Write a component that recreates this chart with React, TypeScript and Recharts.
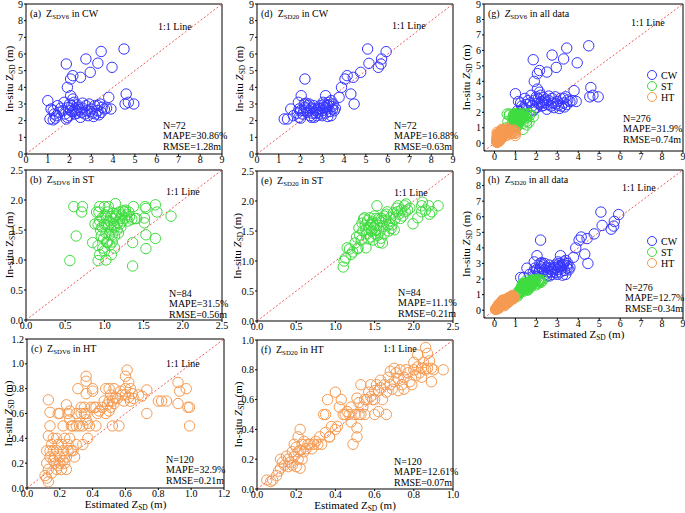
import React from "react";
import { ReferenceLine, Scatter, ScatterChart, XAxis, YAxis } from "recharts";

type Pair = [number, number];

const SERIF = "'Times New Roman', 'Liberation Serif', 'DejaVu Serif', serif";
const BLUE = "#3535ff";
const GREEN = "#3fdc3f";
const ORANGE = "#f59a50";
const RED = "#f05a5a";

// CW samples: [estimated, in-situ]
const cwVs6: Pair[] = [
  [1.0, 3.2], [1.85, 5.4], [2.75, 5.7], [3.3, 5.45], [3.45, 6.15], [4.5, 6.3], [2.95, 4.9], [3.95, 5.2],
  [2.15, 4.7], [2.05, 4.5], [2.5, 4.6], [1.9, 4.0], [2.05, 3.5], [2.15, 3.3], [3.8, 3.4], [4.6, 3.6],
  [4.55, 3.0], [4.95, 3.0], [4.7, 3.1], [3.9, 2.7],
  [1.1, 2.1], [1.15, 2.7], [1.25, 2.6], [1.3, 2.4], [1.35, 2.15], [1.45, 2.9], [1.5, 2.5], [1.6, 2.75],
  [1.75, 3.1], [1.8, 2.4], [1.85, 2.1], [1.9, 2.2], [1.95, 2.8], [2.0, 3.0], [2.05, 2.6], [2.1, 2.9],
  [2.2, 3.1], [2.25, 2.7], [2.3, 2.6], [2.35, 2.95], [2.4, 2.8], [2.5, 2.2], [2.55, 2.5], [2.6, 2.75],
  [2.7, 2.4], [2.8, 2.6], [2.85, 2.3], [2.9, 3.0], [3.0, 2.7], [3.05, 2.45], [3.15, 2.9], [3.2, 2.4],
  [3.3, 2.6], [3.35, 2.35], [3.4, 3.0], [3.5, 2.8], [3.6, 2.7], [3.3, 2.9], [2.25, 2.4], [1.7, 2.6],
  [2.0, 2.3], [2.75, 2.9], [3.1, 2.25], [2.45, 2.65], [1.4, 2.3], [2.15, 2.55], [2.95, 2.55], [3.45, 2.5],
  [1.25, 2.05], [2.6, 3.05], [3.7, 2.75], [2.35, 2.45],
];

const cwSd20: Pair[] = [
  [1.25, 2.1], [1.4, 2.1], [1.55, 2.7], [1.9, 3.1], [2.03, 3.5], [2.2, 4.5], [1.93, 2.7], [1.93, 2.2],
  [1.67, 2.3], [2.17, 3.0], [2.28, 2.7], [2.63, 2.2], [2.89, 2.7], [3.04, 3.1], [3.15, 3.5], [3.23, 2.9],
  [3.4, 3.2], [3.47, 2.7], [3.4, 2.3], [3.77, 3.4], [3.88, 4.0], [4.04, 4.5], [4.14, 4.7], [4.42, 4.6],
  [4.76, 4.9], [4.31, 3.6], [4.46, 3.0], [5.08, 6.3], [5.14, 5.44], [5.57, 5.2], [5.69, 5.4], [5.72, 5.7],
  [5.93, 6.14],
  [2.0, 2.15], [2.1, 2.4], [2.2, 2.8], [2.3, 2.5], [2.35, 2.9], [2.4, 2.6], [2.45, 2.3], [2.5, 2.75],
  [2.55, 2.45], [2.6, 2.9], [2.7, 2.6], [2.75, 2.3], [2.8, 2.5], [2.9, 2.9], [2.95, 2.4], [3.0, 2.6],
  [3.05, 2.8], [3.1, 3.0], [3.15, 2.45], [3.2, 2.7], [3.3, 2.95], [3.35, 2.55], [3.45, 2.85], [3.5, 3.0],
  [3.55, 2.6], [2.25, 3.05], [2.5, 2.2], [3.25, 2.25], [1.85, 2.45], [2.15, 2.6], [2.65, 2.7], [3.0, 2.3],
  [3.3, 3.1], [2.4, 3.0], [2.85, 2.75], [3.6, 2.75], [2.0, 2.6], [2.7, 2.45], [3.15, 2.8],
];

// ST samples
const stVs6: Pair[] = [
  [0.61, 1.89], [0.72, 1.89], [0.71, 1.8], [0.64, 1.4], [0.56, 0.99], [0.85, 1.29], [0.92, 1.24], [0.94, 1.09],
  [0.92, 0.99], [0.98, 1.2], [0.92, 1.59], [0.93, 1.8], [0.94, 1.89], [1.0, 1.89], [1.05, 1.89], [1.14, 1.94],
  [1.03, 1.59], [1.04, 1.29], [1.09, 1.09], [1.13, 1.2], [1.13, 1.4], [1.16, 1.5], [1.12, 1.69], [1.2, 1.69],
  [1.25, 1.8], [1.31, 1.8], [1.37, 1.89], [1.39, 1.69], [1.41, 1.69], [1.36, 1.29], [1.36, 0.9], [1.52, 1.89],
  [1.53, 1.86], [1.51, 1.62], [1.51, 1.7], [1.53, 1.42], [1.53, 1.19], [1.65, 1.92], [1.67, 1.8], [1.65, 1.36],
  [1.85, 1.73],
  [0.9, 1.8], [0.95, 1.5], [0.96, 1.4], [0.97, 1.7], [0.99, 1.35], [1.0, 1.6], [1.01, 1.75], [1.02, 1.45],
  [1.03, 1.3], [1.04, 1.8], [1.05, 1.55], [1.06, 1.65], [1.07, 1.25], [1.08, 1.72], [1.09, 1.5], [1.1, 1.42],
  [1.11, 1.78], [1.12, 1.6], [1.13, 1.55], [1.15, 1.75], [1.17, 1.62], [1.18, 1.45], [1.19, 1.8], [1.21, 1.55],
  [1.22, 1.75], [1.23, 1.65], [1.24, 1.82], [1.26, 1.7], [1.28, 1.75], [1.3, 1.65], [1.32, 1.72], [1.0, 1.15],
  [0.97, 1.55], [1.06, 1.42], [1.14, 1.72], [1.2, 1.6], [1.27, 1.83], [1.35, 1.68], [1.03, 1.7], [0.94, 1.65],
  [1.1, 1.3], [1.02, 1.0], [0.88, 1.6],
];

const stSd20: Pair[] = [
  [1.1, 0.9], [1.11, 1.0], [1.15, 1.22], [1.2, 1.11], [1.25, 1.3], [1.29, 1.22], [1.31, 1.43], [1.34, 1.63],
  [1.37, 1.72], [1.39, 1.52], [1.42, 1.37], [1.39, 1.22], [1.48, 1.62], [1.52, 1.71], [1.53, 1.92], [1.54, 1.43],
  [1.56, 1.31], [1.66, 1.82], [1.59, 1.71], [1.69, 1.62], [1.71, 1.54], [1.75, 1.52], [1.79, 1.82], [1.8, 1.92],
  [1.83, 1.71], [1.88, 1.92], [1.9, 1.95], [1.89, 1.82], [1.99, 1.62], [2.05, 1.72], [2.1, 1.82], [2.11, 1.98],
  [2.1, 1.92], [2.19, 1.92], [2.23, 1.82], [2.31, 1.92],
  [1.13, 1.05], [1.18, 1.2], [1.22, 1.15], [1.27, 1.4], [1.3, 1.55], [1.33, 1.35], [1.35, 1.5], [1.36, 1.7],
  [1.38, 1.6], [1.4, 1.45], [1.41, 1.68], [1.43, 1.55], [1.44, 1.72], [1.45, 1.4], [1.46, 1.5], [1.47, 1.65],
  [1.49, 1.55], [1.5, 1.75], [1.51, 1.45], [1.53, 1.6], [1.55, 1.7], [1.57, 1.5], [1.58, 1.65], [1.6, 1.3],
  [1.61, 1.58], [1.62, 1.75], [1.64, 1.68], [1.65, 1.78], [1.67, 1.6], [1.7, 1.72], [1.72, 1.6], [1.74, 1.8],
  [1.76, 1.7], [1.78, 1.88], [1.81, 1.78], [1.84, 1.85], [1.86, 1.75], [1.92, 1.85], [2.15, 1.85], [2.2, 1.78],
  [1.95, 1.88], [1.62, 1.45], [1.48, 1.35], [1.58, 1.38], [1.28, 1.2], [1.45, 1.6], [1.52, 1.52], [1.68, 1.5],
];

// HT samples
const htVs6: Pair[] = [
  [0.11, 0.1], [0.12, 0.08], [0.13, 0.05], [0.13, 0.15], [0.12, 0.2], [0.14, 0.3], [0.12, 0.3], [0.13, 0.42],
  [0.14, 0.5], [0.14, 0.61], [0.13, 0.71], [0.16, 0.3], [0.17, 0.2], [0.18, 0.15], [0.17, 0.25], [0.18, 0.4],
  [0.19, 0.35], [0.19, 0.6], [0.2, 0.2], [0.2, 0.6], [0.21, 0.15], [0.22, 0.3], [0.22, 0.5], [0.23, 0.2],
  [0.23, 0.4], [0.24, 0.67], [0.24, 0.15], [0.25, 0.6], [0.25, 0.3], [0.26, 0.55], [0.26, 0.62], [0.27, 0.3],
  [0.27, 0.5], [0.29, 0.25], [0.3, 0.5], [0.31, 0.8], [0.33, 0.65], [0.33, 0.6], [0.34, 0.5], [0.34, 0.35],
  [0.36, 0.9], [0.36, 0.86], [0.36, 0.76], [0.36, 0.6], [0.37, 0.52], [0.37, 0.4], [0.39, 0.65], [0.4, 0.8],
  [0.4, 0.78], [0.42, 0.5], [0.42, 0.65], [0.43, 0.6], [0.48, 0.8], [0.48, 0.6], [0.49, 0.67], [0.5, 0.7],
  [0.5, 0.8], [0.51, 0.65], [0.52, 0.7], [0.52, 0.5], [0.53, 0.8], [0.53, 0.68], [0.54, 0.73], [0.56, 0.5],
  [0.58, 0.75], [0.59, 0.7], [0.6, 0.9], [0.61, 0.95], [0.6, 0.8], [0.62, 0.85], [0.63, 0.7], [0.64, 0.76],
  [0.62, 0.73], [0.68, 0.75], [0.73, 0.79], [0.73, 0.6], [0.8, 0.7], [0.82, 0.7], [0.85, 0.7], [0.92, 0.85],
  [0.92, 0.68], [0.93, 0.78], [0.97, 0.8], [0.98, 0.65], [0.99, 0.65], [0.99, 0.5],
  [0.14, 0.25], [0.15, 0.35], [0.16, 0.4], [0.15, 0.12], [0.18, 0.3], [0.19, 0.18], [0.2, 0.25], [0.21, 0.35],
  [0.16, 0.22], [0.24, 0.25], [0.25, 0.35], [0.26, 0.4], [0.28, 0.3], [0.28, 0.5], [0.3, 0.6], [0.32, 0.5],
  [0.35, 0.6], [0.35, 0.65], [0.38, 0.5], [0.41, 0.65], [0.44, 0.62], [0.46, 0.65], [0.47, 0.7], [0.5, 0.62],
  [0.51, 0.75], [0.55, 0.72], [0.57, 0.78], [0.6, 0.75], [0.63, 0.8], [0.65, 0.72], [0.7, 0.74], [0.36, 0.55],
  [0.22, 0.22], [0.3, 0.35],
];

const htSd20: Pair[] = [
  [0.05, 0.06], [0.07, 0.05], [0.1, 0.09], [0.12, 0.14], [0.12, 0.2], [0.16, 0.2], [0.16, 0.15], [0.18, 0.16],
  [0.19, 0.3], [0.21, 0.2], [0.21, 0.25], [0.21, 0.35], [0.22, 0.4], [0.22, 0.14], [0.23, 0.3], [0.24, 0.25],
  [0.27, 0.3], [0.31, 0.3], [0.33, 0.3], [0.34, 0.5], [0.35, 0.5], [0.36, 0.6], [0.37, 0.35], [0.4, 0.4],
  [0.4, 0.65], [0.43, 0.6], [0.42, 0.55], [0.45, 0.5], [0.47, 0.5], [0.49, 0.3], [0.51, 0.35], [0.51, 0.41],
  [0.51, 0.61], [0.52, 0.5], [0.53, 0.7], [0.53, 0.5], [0.55, 0.6], [0.55, 0.5], [0.58, 0.7], [0.59, 0.6],
  [0.6, 0.66], [0.62, 0.52], [0.63, 0.73], [0.64, 0.6], [0.66, 0.5], [0.68, 0.7], [0.68, 0.79], [0.7, 0.81],
  [0.72, 0.74], [0.74, 0.7], [0.75, 0.67], [0.76, 0.8], [0.79, 0.7], [0.8, 0.85], [0.82, 0.9], [0.84, 0.75],
  [0.84, 0.81], [0.86, 0.95], [0.87, 0.91], [0.87, 0.81], [0.89, 0.81], [0.89, 0.72], [0.95, 0.8],
  [0.08, 0.06], [0.11, 0.12], [0.13, 0.18], [0.14, 0.16], [0.15, 0.22], [0.17, 0.18], [0.18, 0.25], [0.19, 0.22],
  [0.2, 0.28], [0.2, 0.15], [0.22, 0.26], [0.23, 0.2], [0.24, 0.32], [0.25, 0.27], [0.26, 0.3], [0.28, 0.27],
  [0.29, 0.3], [0.3, 0.32], [0.32, 0.35], [0.37, 0.35], [0.38, 0.42], [0.41, 0.42], [0.44, 0.5], [0.46, 0.52],
  [0.48, 0.55], [0.5, 0.5], [0.52, 0.58], [0.54, 0.55], [0.56, 0.6], [0.57, 0.65], [0.58, 0.62], [0.6, 0.6],
  [0.61, 0.7], [0.62, 0.66], [0.63, 0.68], [0.65, 0.7], [0.66, 0.65], [0.67, 0.75], [0.69, 0.67], [0.7, 0.72],
  [0.71, 0.78], [0.72, 0.66], [0.73, 0.8], [0.75, 0.75], [0.77, 0.78], [0.78, 0.72], [0.8, 0.8], [0.81, 0.76],
  [0.82, 0.82], [0.83, 0.78], [0.85, 0.85], [0.86, 0.8], [0.88, 0.86], [0.9, 0.8], [0.6, 0.5], [0.48, 0.45],
  [0.35, 0.38],
];

const ticks9 = [0, 1, 2, 3, 4, 5, 6, 7, 8, 9];
const ticks25 = [0, 0.5, 1, 1.5, 2, 2.5];
const ticks12 = [0, 0.2, 0.4, 0.6, 0.8, 1, 1.2];
const ticks10 = [0, 0.2, 0.4, 0.6, 0.8, 1];

type Series = { name: string; color: string; data: Pair[] };

interface PanelDef {
  id: string;
  left: number;
  top: number;
  w: number;
  h: number;
  domain: [number, number];
  ticks: number[];
  digits: number;
  series: Series[];
  title: string;
  sub: string;
  italicTitle: boolean;
  stats: string[];
  statsX: number;
  statsY: number;
  lineX: number;
  lineY: number;
  yLabelX: number;
  italicLabel: boolean;
  legendY?: number;
  xLabel?: boolean;
}

const panels: PanelDef[] = [
  {
    id: "a", left: 26, top: 4, w: 196, h: 150, domain: [0, 9], ticks: ticks9, digits: 0,
    series: [{ name: "CW", color: BLUE, data: cwVs6 }],
    title: "in CW", sub: "SDV6", italicTitle: false,
    stats: ["N=72", "MAPE=30.86%", "RMSE=1.28m"], statsX: 163, statsY: 125,
    lineX: 158, lineY: 26, yLabelX: 9, italicLabel: false,
  },
  {
    id: "d", left: 257, top: 4, w: 196, h: 150, domain: [0, 9], ticks: ticks9, digits: 0,
    series: [{ name: "CW", color: BLUE, data: cwSd20 }],
    title: "in CW", sub: "SD20", italicTitle: false,
    stats: ["N=72", "MAPE=16.88%", "RMSE=0.63m"], statsX: 394, statsY: 125,
    lineX: 392, lineY: 25, yLabelX: 239, italicLabel: true,
  },
  {
    id: "g", left: 484, top: 4, w: 199, h: 147, domain: [-0.5, 9], ticks: ticks9, digits: 0,
    series: [
      { name: "CW", color: BLUE, data: cwVs6 },
      { name: "ST", color: GREEN, data: stVs6 },
      { name: "HT", color: ORANGE, data: htVs6 },
    ],
    title: "in all data", sub: "SDV6", italicTitle: true,
    stats: ["N=276", "MAPE=31.9%", "RMSE=0.74m"], statsX: 623, statsY: 118,
    lineX: 631, lineY: 22, yLabelX: 466, italicLabel: true, legendY: 75,
  },
  {
    id: "b", left: 26, top: 170, w: 196, h: 150, domain: [0, 2.5], ticks: ticks25, digits: 1,
    series: [{ name: "ST", color: GREEN, data: stVs6 }],
    title: "in ST", sub: "SDV6", italicTitle: false,
    stats: ["N=84", "MAPE=31.5%", "RMSE=0.56m"], statsX: 169, statsY: 293,
    lineX: 166, lineY: 191, yLabelX: 9, italicLabel: false,
  },
  {
    id: "e", left: 257, top: 171, w: 196, h: 150, domain: [0, 2.5], ticks: ticks25, digits: 1,
    series: [{ name: "ST", color: GREEN, data: stSd20 }],
    title: "in ST", sub: "SD20", italicTitle: false,
    stats: ["N=84", "MAPE=11.1%", "RMSE=0.21m"], statsX: 398, statsY: 292,
    lineX: 394, lineY: 192, yLabelX: 237, italicLabel: true,
  },
  {
    id: "h", left: 484, top: 170, w: 199, h: 148, domain: [-0.5, 9], ticks: ticks9, digits: 0,
    series: [
      { name: "CW", color: BLUE, data: cwSd20 },
      { name: "ST", color: GREEN, data: stSd20 },
      { name: "HT", color: ORANGE, data: htSd20 },
    ],
    title: "in all data", sub: "SD20", italicTitle: false,
    stats: ["N=276", "MAPE=12.7%", "RMSE=0.34m"], statsX: 625, statsY: 287,
    lineX: 622, lineY: 187, yLabelX: 466, italicLabel: true, legendY: 241, xLabel: true,
  },
  {
    id: "c", left: 27, top: 339, w: 197, h: 149, domain: [0, 1.2], ticks: ticks12, digits: 1,
    series: [{ name: "HT", color: ORANGE, data: htVs6 }],
    title: "in HT", sub: "SDV6", italicTitle: false,
    stats: ["N=120", "MAPE=32.9%", "RMSE=0.21m"], statsX: 166, statsY: 459,
    lineX: 166, lineY: 363, yLabelX: 8, italicLabel: true, xLabel: true,
  },
  {
    id: "f", left: 257, top: 340, w: 196, h: 149, domain: [0, 1], ticks: ticks10, digits: 1,
    series: [{ name: "HT", color: ORANGE, data: htSd20 }],
    title: "in HT", sub: "SD20", italicTitle: false,
    stats: ["N=120", "MAPE=12.61%", "RMSE=0.07m"], statsX: 394, statsY: 461,
    lineX: 383, lineY: 348, yLabelX: 238, italicLabel: true, xLabel: true,
  },
];

const toPts = (arr: Pair[]) => arr.map(([x, y]) => ({ x, y }));

const tickStyle = { fontSize: 10, fill: "#000", fontFamily: SERIF, style: { fontFamily: SERIF } };

const Panel = ({ p }: { p: PanelDef }) => {
  const fmt = (v: number) => v.toFixed(p.digits);
  return (
    <div style={{ position: "absolute", left: p.left - 30, top: p.top - 6, fontFamily: SERIF }}>
      <ScatterChart
        width={p.w + 38}
        height={p.h + 22}
        margin={{ top: 6, right: 8, bottom: 0, left: 0 }}
        style={{ fontFamily: SERIF }}
      >
        <XAxis
          type="number"
          dataKey="x"
          domain={p.domain}
          ticks={p.ticks}
          interval={0}
          allowDataOverflow
          height={16}
          tickFormatter={fmt}
          tick={tickStyle}
          tickSize={2}
          tickMargin={0}
          axisLine={{ stroke: "#000" }}
          tickLine={{ stroke: "#000" }}
        />
        <YAxis
          type="number"
          dataKey="y"
          domain={p.domain}
          ticks={p.ticks}
          interval={0}
          allowDataOverflow
          width={30}
          tickFormatter={fmt}
          tick={tickStyle}
          tickSize={2}
          tickMargin={1}
          axisLine={{ stroke: "#000" }}
          tickLine={{ stroke: "#000" }}
        />
        <ReferenceLine x={p.domain[1]} stroke="#000" />
        <ReferenceLine y={p.domain[1]} stroke="#000" />
        <ReferenceLine
          segment={[
            { x: p.domain[0], y: p.domain[0] },
            { x: p.domain[1], y: p.domain[1] },
          ]}
          stroke={RED}
          strokeDasharray="2 2"
        />
        {p.series.map((s) => (
          <Scatter
            key={s.name}
            name={s.name}
            data={toPts(s.data)}
            isAnimationActive={false}
            shape={(props: any) => (
              <circle cx={props.cx} cy={props.cy} r={5.2} fill="none" stroke={s.color} strokeWidth={1} />
            )}
          />
        ))}
      </ScatterChart>
    </div>
  );
};

// text with a subscripted Z
const ZText = ({
  x, y, pre, sub, post, size, italic, anchor, transform,
}: {
  x: number; y: number; pre: string; sub: string; post: string; size: number;
  italic: boolean; anchor?: "start" | "middle"; transform?: string;
}) => (
  <text
    x={x}
    y={y}
    fontSize={size}
    textAnchor={anchor || "start"}
    transform={transform}
    style={{ whiteSpace: "pre", fontFamily: SERIF }}
  >
    <tspan>{pre}</tspan>
    <tspan fontStyle={italic ? "italic" : "normal"}>Z</tspan>
    <tspan fontSize={size * 0.68} dy={1.5}>{sub}</tspan>
    <tspan dy={-1.5}>{post}</tspan>
  </text>
);

const txt = { fontFamily: SERIF };

const Overlay = () => (
  <svg
    width={685}
    height={513}
    style={{ position: "absolute", left: 0, top: 0, pointerEvents: "none" }}
  >
    {panels.map((p) => {
      const cy = p.top + p.h / 2;
      return (
        <g key={p.id}>
          <ZText
            x={p.left + 4}
            y={p.top + 13}
            pre={`(${p.id})  `}
            sub={p.sub}
            post={` ${p.title}`}
            size={10}
            italic={p.italicTitle}
          />
          <text x={p.lineX} y={p.lineY + 3.5} fontSize={10} style={txt}>
            1:1 Line
          </text>
          {p.stats.map((s, i) => (
            <text key={s} x={p.statsX} y={p.statsY + 3.5 + i * 10.5} fontSize={10} style={txt}>
              {s}
            </text>
          ))}
          <ZText
            x={p.yLabelX + 4}
            y={cy}
            pre="In-situ "
            sub="SD"
            post=" (m)"
            size={11}
            italic={p.italicLabel}
            anchor="middle"
            transform={`rotate(-90 ${p.yLabelX + 4} ${cy})`}
          />
          {p.xLabel && (
            <ZText
              x={p.left + p.w / 2}
              y={p.top + p.h + 20}
              pre="Estimated "
              sub="SD"
              post=" (m)"
              size={11}
              italic={false}
              anchor="middle"
            />
          )}
          {p.legendY !== undefined &&
            p.series.map((s, i) => (
              <g key={s.name}>
                <circle cx={652} cy={p.legendY! + i * 11} r={4.5} fill="none" stroke={s.color} strokeWidth={1} />
                <text x={661} y={p.legendY! + i * 11 + 3.5} fontSize={10} style={txt}>
                  {s.name}
                </text>
              </g>
            ))}
        </g>
      );
    })}
  </svg>
);

export default function App() {
  return (
    <div
      style={{
        position: "absolute",
        left: 0,
        top: 0,
        width: 685,
        height: 513,
        background: "#fff",
        overflow: "hidden",
        fontFamily: SERIF,
      }}
    >
      {panels.map((p) => (
        <Panel key={p.id} p={p} />
      ))}
      <Overlay />
    </div>
  );
}
